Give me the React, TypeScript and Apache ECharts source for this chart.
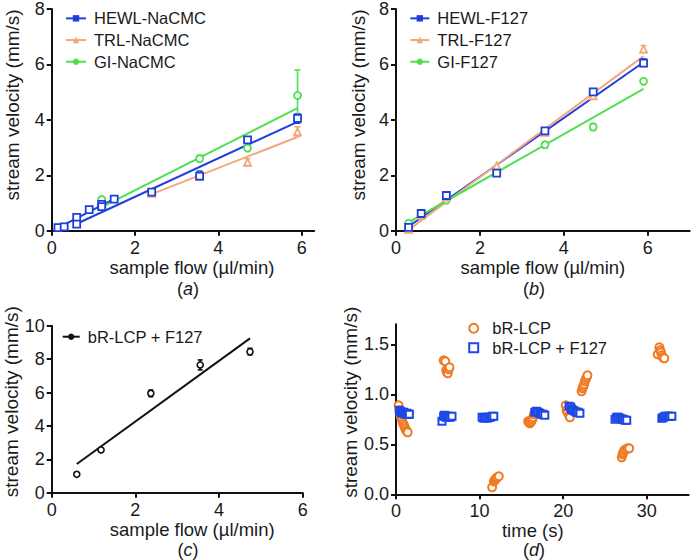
import React, { useEffect, useRef } from "react";
import * as echarts from "echarts";

const FONT = "'Liberation Sans', Arial, Helvetica, sans-serif";
const TXT = "#1a1a1a";
const AXC = "#111111";

// ---------- Panel (a) ----------
const A_HEWL_X = [0.15, 0.3, 0.6, 0.6, 0.9, 1.2, 1.2, 1.5, 2.4, 3.55, 4.7, 5.9];
const A_HEWL_Y = [0.11, 0.14, 0.48, 0.24, 0.76, 0.95, 0.87, 1.14, 1.39, 1.97, 3.28, 4.05];
const A_HEWL_ERR = [[1.2, 0.84, 0.99], [3.55, 1.82, 2.15], [4.7, 3.18, 3.38], [5.9, 3.88, 4.22]];
const A_HEWL_FIT_LOW = [[0.15, 0.1], [1.5, 1.15]];
const A_HEWL_FIT = [[0.6, 0.25], [5.9, 3.93]];
const A_TRL_X = [2.4, 3.55, 4.7, 5.9];
const A_TRL_Y = [1.35, 1.95, 2.47, 3.57];
const A_TRL_ERR = [[4.7, 2.35, 2.6], [5.9, 3.4, 3.75]];
const A_TRL_FIT = [[2.4, 1.32], [5.9, 3.38]];
const A_GI_X = [1.2, 3.55, 4.7, 5.9];
const A_GI_Y = [1.13, 2.6, 2.98, 4.88];
const A_GI_ERR = [[3.55, 2.5, 2.72], [4.7, 2.9, 3.08], [5.9, 3.95, 5.8]];
const A_GI_FIT = [[1.2, 0.85], [5.9, 4.42]];

// ---------- Panel (b) ----------
const B_X = [0.3, 0.6, 1.2, 2.4, 3.55, 4.7, 5.9];
const B_HEWL_Y = [0.12, 0.62, 1.27, 2.08, 3.6, 5.01, 6.05];
const B_HEWL_ERR = [[1.2, 1.2, 1.33], [3.55, 3.54, 3.67], [5.9, 5.93, 6.2]];
const B_HEWL_FIT = [[0.3, 0.15], [5.9, 6.08]];
const B_TRL_Y = [0.05, 0.55, 1.2, 2.34, 3.55, 4.87, 6.55];
const B_TRL_ERR = [[5.9, 6.43, 6.68]];
const B_TRL_FIT = [[0.3, 0.03], [5.9, 6.3]];
const B_GI_Y = [0.27, 0.55, 1.1, 2.1, 3.1, 3.74, 5.39];
const B_GI_ERR = [[3.55, 2.98, 3.2], [4.7, 3.62, 3.86]];
const B_GI_FIT = [[0.3, 0.3], [5.9, 5.12]];

// ---------- Panel (c) ----------
const C_X = [0.6, 1.18, 2.37, 3.55, 4.74];
const C_Y = [1.1, 2.56, 5.95, 7.65, 8.44];
const C_ERR = [[0.6, 1.02, 1.18], [1.18, 2.45, 2.67], [2.37, 5.75, 6.15], [3.55, 7.35, 7.95], [4.74, 8.25, 8.65]];
const C_FIT = [[0.6, 1.72], [4.74, 9.24]];

// ---------- Panel (d) ----------
const D_LCP = [
  [0.3, 0.89], [0.4, 0.84], [0.5, 0.8], [0.6, 0.77], [0.7, 0.75], [0.8, 0.72], [0.9, 0.7], [1.0, 0.68], [1.1, 0.66], [1.2, 0.64], [1.3, 0.63], [1.4, 0.62],
  [5.7, 1.34], [5.9, 1.33], [6.0, 1.24], [6.1, 1.22], [6.2, 1.21], [6.3, 1.25], [6.4, 1.27],
  [11.5, 0.07], [11.7, 0.13], [11.8, 0.14], [11.9, 0.15], [12.0, 0.16], [12.1, 0.17], [12.3, 0.18],
  [15.8, 0.73], [15.9, 0.72], [16.0, 0.71], [16.1, 0.72], [16.2, 0.73], [16.3, 0.75], [16.4, 0.77], [16.5, 0.8], [16.7, 0.82],
  [20.3, 0.89], [20.4, 0.84], [20.5, 0.82], [20.7, 0.79], [20.8, 0.77],
  [22.2, 1.03], [22.3, 1.06], [22.4, 1.08], [22.5, 1.1], [22.6, 1.13], [22.7, 1.15], [22.8, 1.17], [22.9, 1.19],
  [27.0, 0.37], [27.1, 0.4], [27.2, 0.42], [27.3, 0.44], [27.5, 0.45], [27.7, 0.46], [27.9, 0.46],
  [31.3, 1.4], [31.5, 1.47], [31.6, 1.44], [31.7, 1.42], [31.8, 1.39], [31.9, 1.37], [32.1, 1.36],
];
const D_F127 = [
  [0.4, 0.84], [0.5, 0.83], [0.6, 0.82], [0.7, 0.82], [0.8, 0.81], [0.9, 0.82], [1.0, 0.81], [1.1, 0.81], [1.2, 0.8], [1.3, 0.81], [1.4, 0.8], [1.5, 0.8], [1.6, 0.8],
  [5.5, 0.73], [5.7, 0.78], [5.8, 0.79], [5.9, 0.78], [6.0, 0.77], [6.1, 0.78], [6.2, 0.77], [6.3, 0.78], [6.5, 0.77], [6.7, 0.78],
  [10.3, 0.77], [10.5, 0.76], [10.7, 0.77], [10.9, 0.76], [11.1, 0.77], [11.3, 0.77], [11.5, 0.78], [11.7, 0.78],
  [16.6, 0.82], [16.8, 0.83], [17.0, 0.82], [17.2, 0.81], [17.4, 0.8], [17.6, 0.8], [17.8, 0.79],
  [20.7, 0.88], [20.9, 0.87], [21.0, 0.85], [21.2, 0.84], [21.4, 0.83], [21.6, 0.82], [21.8, 0.82], [22.0, 0.81],
  [26.2, 0.75], [26.4, 0.77], [26.6, 0.77], [26.8, 0.76], [27.0, 0.75], [27.2, 0.75], [27.4, 0.74], [27.6, 0.74],
  [31.8, 0.76], [32.0, 0.77], [32.2, 0.78], [32.4, 0.78], [32.6, 0.78], [32.8, 0.78], [33.0, 0.78],
];

// ---------- Ticks ----------
const AB_X_TICKS = [0, 2, 4, 6];
const D_X_TICKS = [0, 10, 20, 30];
const D_Y_TICKS = [0, 0.5, 1.0, 1.5];

const BLUE = "#1f3fdb";
const SALMON = "#f4a77a";
const GREEN = "#4ee04e";
const BLACK = "#111111";
const D_ORANGE = "#f07a24";
const D_BLUE = "#1e48e6";

const zip = (xs: number[], ys: number[]) => xs.map((x, i) => [x, ys[i]]);

function fitLine(name: string, data: number[][], color: string, gi: number, symbol: string) {
  return {
    type: "line", name, xAxisIndex: gi, yAxisIndex: gi, data, symbol, showSymbol: false,
    lineStyle: { color, width: 2 }, itemStyle: { color }, z: 2, silent: true,
  };
}
function points(name: string, data: number[][], color: string, gi: number, symbol: string, size: number, bw = 1.8) {
  return {
    type: "scatter", name, xAxisIndex: gi, yAxisIndex: gi, data, symbol, symbolSize: size,
    itemStyle: { color: "#ffffff", borderColor: color, borderWidth: bw, opacity: 1 }, z: 4, silent: true,
  };
}
function errBars(name: string, data: number[][], color: string, gi: number, cap = 3) {
  return {
    type: "custom", name, xAxisIndex: gi, yAxisIndex: gi, data, z: 3, silent: true,
    encode: { x: 0, y: [1, 2] },
    renderItem: (params: any, api: any) => {
      const x = api.value(0);
      const lo = api.coord([x, api.value(1)]);
      const hi = api.coord([x, api.value(2)]);
      const st = { stroke: color, lineWidth: 1.6 };
      return {
        type: "group",
        children: [
          { type: "line", shape: { x1: lo[0], y1: lo[1], x2: hi[0], y2: hi[1] }, style: st },
          { type: "line", shape: { x1: lo[0] - cap, y1: lo[1], x2: lo[0] + cap, y2: lo[1] }, style: st },
          { type: "line", shape: { x1: hi[0] - cap, y1: hi[1], x2: hi[0] + cap, y2: hi[1] }, style: st },
        ],
      };
    },
  };
}

function xAx(gi: number, min: number, max: number, ticks: number[], name: string, nameGap: number, pad: number[]) {
  return {
    type: "value", gridIndex: gi, min, max, name, nameLocation: "middle", nameGap,
    nameTextStyle: { fontSize: 18.5, lineHeight: 19, color: TXT, fontFamily: FONT, padding: pad },
    axisLine: { show: true, onZero: false, lineStyle: { color: AXC, width: 2 } },
    axisTick: { show: true, length: 5, customValues: ticks, lineStyle: { color: AXC, width: 2 } },
    axisLabel: { customValues: ticks, fontSize: 18, color: TXT, fontFamily: FONT, margin: 8 },
    splitLine: { show: false },
  };
}
function yAx(gi: number, min: number, max: number, ticks: number[], name: string, nameGap: number, pad: number[], fmt?: (v: number) => string) {
  return {
    type: "value", gridIndex: gi, min, max, name, nameLocation: "middle", nameGap,
    nameTextStyle: { fontSize: 19, color: TXT, fontFamily: FONT, padding: pad },
    axisLine: { show: true, onZero: false, lineStyle: { color: AXC, width: 2 } },
    axisTick: { show: true, length: 5, customValues: ticks, lineStyle: { color: AXC, width: 2 } },
    axisLabel: { customValues: ticks, fontSize: 18, color: TXT, fontFamily: FONT, margin: 7, formatter: fmt },
    splitLine: { show: false },
  };
}

function legendBox(data: string[], left: number, top: number, lineH: number, iw: number, ih: number, textPad: number) {
  return {
    data, orient: "vertical", left, top, itemWidth: iw, itemHeight: ih, itemGap: 0, padding: 0,
    selectedMode: false,
    textStyle: { fontSize: 16.5, lineHeight: lineH, color: TXT, fontFamily: FONT, padding: [0, 0, 0, textPad] },
  };
}

function panelLabel(x: number, y: number, letter: string) {
  return {
    type: "text", x, y,
    style: {
      text: "{p|(}{i|" + letter + "}{p|)}",
      align: "center", verticalAlign: "middle",
      rich: {
        p: { fontSize: 18, lineHeight: 17, fontFamily: FONT, fill: TXT },
        i: { fontSize: 18, lineHeight: 17, fontFamily: FONT, fill: TXT, fontStyle: "italic" },
      },
    },
  };
}

export default function App() {
  const ref = useRef<HTMLDivElement>(null);
  useEffect(() => {
    if (!ref.current) return;
    const chart = echarts.init(ref.current, null, { renderer: "svg" });
    const sampleFlow = "sample flow (\u00b5l/min)";
    const velocity = "stream velocity (mm/s)";
    const option: any = {
      animation: false,
      backgroundColor: "#ffffff",
      grid: [
        { left: 51.7, top: 6.7, width: 262.5, height: 224 },
        { left: 396, top: 6.7, width: 293.7, height: 224 },
        { left: 51.7, top: 325.7, width: 251, height: 167 },
        { left: 396, top: 324.3, width: 292.6, height: 170 },
      ],
      xAxis: [
        xAx(0, 0, 6.3, AB_X_TICKS, sampleFlow, 25, [0, 0, 0, 18]),
        xAx(1, 0, 7, AB_X_TICKS, sampleFlow, 25, [0, 0, 0, 0]),
        xAx(2, 0, 6, AB_X_TICKS, sampleFlow, 26.3, [0, 0, 0, 30]),
        xAx(3, 0, 35, D_X_TICKS, "time (s)", 24.5, [0, 19, 0, 0]),
      ],
      yAxis: [
        yAx(0, 0, 8, [0, 2, 4, 6, 8], velocity, 30, [0, 0, 0, 30]),
        yAx(1, 0, 8, [0, 2, 4, 6, 8], velocity, 28.3, [0, 0, 0, 30]),
        yAx(2, 0, 10, [0, 2, 4, 6, 8, 10], velocity, 30, [0, 0, 0, 15]),
        yAx(3, 0, 1.7, D_Y_TICKS, velocity, 28.3, [0, 0, 0, 14], (v: number) => v.toFixed(1)),
      ],
      legend: [
        legendBox(["HEWL-NaCMC", "TRL-NaCMC", "GI-NaCMC"], 65, 7.5, 21.7, 20, 8, 3),
        legendBox(["HEWL-F127", "TRL-F127", "GI-F127"], 409.3, 7.5, 21.7, 19, 8, 3),
        legendBox(["bR-LCP + F127"], 61.7, 325.85, 21.7, 17, 8, 3),
        legendBox(["bR-LCP", "bR-LCP + F127 "], 468.2, 318.6, 19.4, 9, 9, 9),
      ],
      series: [
        // (a)
        fitLine("HEWL-NaCMC", A_HEWL_FIT_LOW, BLUE, 0, "rect"),
        fitLine("HEWL-NaCMC", A_HEWL_FIT, BLUE, 0, "rect"),
        fitLine("TRL-NaCMC", A_TRL_FIT, SALMON, 0, "triangle"),
        fitLine("GI-NaCMC", A_GI_FIT, GREEN, 0, "circle"),
        errBars("HEWL-NaCMC", A_HEWL_ERR, BLUE, 0),
        errBars("TRL-NaCMC", A_TRL_ERR, SALMON, 0),
        errBars("GI-NaCMC", A_GI_ERR, GREEN, 0),
        points("TRL-NaCMC", zip(A_TRL_X, A_TRL_Y), SALMON, 0, "triangle", 7),
        points("GI-NaCMC", zip(A_GI_X, A_GI_Y), GREEN, 0, "circle", 7),
        points("HEWL-NaCMC", zip(A_HEWL_X, A_HEWL_Y), BLUE, 0, "rect", 7),
        // (b)
        fitLine("HEWL-F127", B_HEWL_FIT, BLUE, 1, "rect"),
        fitLine("TRL-F127", B_TRL_FIT, SALMON, 1, "triangle"),
        fitLine("GI-F127", B_GI_FIT, GREEN, 1, "circle"),
        errBars("HEWL-F127", B_HEWL_ERR, BLUE, 1),
        errBars("TRL-F127", B_TRL_ERR, SALMON, 1),
        errBars("GI-F127", B_GI_ERR, GREEN, 1),
        points("GI-F127", zip(B_X, B_GI_Y), GREEN, 1, "circle", 7),
        points("TRL-F127", zip(B_X, B_TRL_Y), SALMON, 1, "triangle", 7),
        points("HEWL-F127", zip(B_X, B_HEWL_Y), BLUE, 1, "rect", 7),
        // (c)
        fitLine("bR-LCP + F127", C_FIT, BLACK, 2, "circle"),
        errBars("bR-LCP + F127", C_ERR, BLACK, 2, 2.5),
        points("bR-LCP + F127", zip(C_X, C_Y), BLACK, 2, "circle", 6, 1.6),
        // (d)
        points("bR-LCP", D_LCP, D_ORANGE, 3, "circle", 8, 2),
        points("bR-LCP + F127 ", D_F127, D_BLUE, 3, "rect", 7, 2),
      ],
      graphic: [
        panelLabel(188, 289, "a"),
        panelLabel(534, 289, "b"),
        panelLabel(188, 550, "c"),
        panelLabel(534, 550, "d"),
      ],
    };
    chart.setOption(option);
    return () => chart.dispose();
  }, []);
  return <div ref={ref} style={{ position: "absolute", left: 0, top: 0, width: 692, height: 560 }} />;
}
